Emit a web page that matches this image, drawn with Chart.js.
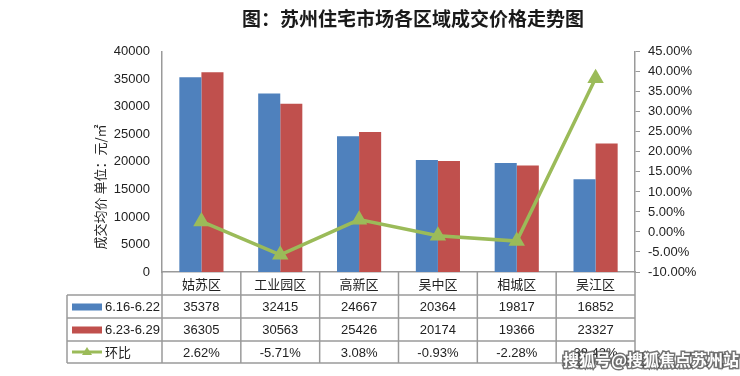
<!DOCTYPE html>
<html>
<head>
<meta charset="utf-8">
<script src="https://cdn.jsdelivr.net/npm/chart.js@4"></script>
<style>
  html, body { margin: 0; padding: 0; background: #fff; }
  canvas { display: block; }
</style>
</head>
<body>
<canvas id="chart" width="740" height="376"></canvas>
<script>
// data
const categories = ['姑苏区', '工业园区', '高新区', '吴中区', '相城区', '吴江区'];
const seriesNames = ['6.16-6.22', '6.23-6.29', '环比'];
const week1 = [35378, 32415, 24667, 20364, 19817, 16852];
const week2 = [36305, 30563, 25426, 20174, 19366, 23327];
const change = [2.62, -5.71, 3.08, -0.93, -2.28, 38.42]; // percent

const titleText = '图：苏州住宅市场各区域成交价格走势图';
const yTitle = '成交均价 单位：元/㎡';
const watermark = '搜狐号@搜狐焦点苏州站';

const blue = '#4F81BD';
const red = '#C0504D';
const green = '#9BBB59';
const lineGrey = '#9a9a9a';
const cjk = "'Noto Sans CJK SC', sans-serif";
const num = "'Liberation Sans', Arial, sans-serif";

// draws the data table under the plot, the rotated y title and the watermark
const tablePlugin = {
    id: 'data_table',
    afterDraw: (chart) => {
        const ctx = chart.ctx;
        const ca = chart.chartArea;
        const xs = chart.scales.x;
        const n = categories.length;
        const colW = (ca.right - ca.left) / n;
        const legendLeft = 67;
        const headTop = ca.bottom;
        const rows = [ca.bottom + 23, ca.bottom + 46, ca.bottom + 69, ca.bottom + 91];

        ctx.save();
        ctx.strokeStyle = lineGrey;
        ctx.lineWidth = 1.5;

        // vertical lines
        for (let i = 0; i <= n; i++) {
            const x = ca.left + i * colW;
            ctx.beginPath();
            ctx.moveTo(x, headTop);
            ctx.lineTo(x, rows[3]);
            ctx.stroke();
        }
        ctx.beginPath();
        ctx.moveTo(legendLeft, rows[0]);
        ctx.lineTo(legendLeft, rows[3]);
        ctx.stroke();

        // horizontal lines
        for (const y of rows) {
            ctx.beginPath();
            ctx.moveTo(legendLeft, y);
            ctx.lineTo(ca.right, y);
            ctx.stroke();
        }

        // category labels
        ctx.fillStyle = '#222';
        ctx.textAlign = 'center';
        ctx.textBaseline = 'middle';
        ctx.font = `13px ${cjk}`;
        categories.forEach((c, i) => {
            ctx.fillText(c, xs.getPixelForValue(i), headTop + 12);
        });

        // values
        ctx.font = `13px ${num}`;
        const rowVals = [
            week1.map(v => String(v)),
            week2.map(v => String(v)),
            change.map(v => v.toFixed(2) + '%'),
        ];
        rowVals.forEach((vals, r) => {
            const yMid = (rows[r] + rows[r + 1]) / 2 + 1;
            vals.forEach((t, i) => {
                ctx.fillText(t, xs.getPixelForValue(i), yMid);
            });
        });

        // legend column
        ctx.textAlign = 'left';
        const swX = 72, swW = 30;
        [blue, red].forEach((col, r) => {
            const yMid = (rows[r] + rows[r + 1]) / 2;
            ctx.fillStyle = col;
            ctx.fillRect(swX, yMid - 3, swW, 7);
            ctx.fillStyle = '#222';
            ctx.font = `13px ${num}`;
            ctx.fillText(seriesNames[r], swX + swW + 3, yMid + 1);
        });
        const y3 = (rows[2] + rows[3]) / 2;
        ctx.strokeStyle = green;
        ctx.lineWidth = 3;
        ctx.beginPath();
        ctx.moveTo(swX, y3);
        ctx.lineTo(swX + swW, y3);
        ctx.stroke();
        ctx.fillStyle = green;
        ctx.beginPath();
        ctx.moveTo(swX + swW / 2, y3 - 5);
        ctx.lineTo(swX + swW / 2 + 5, y3 + 3);
        ctx.lineTo(swX + swW / 2 - 5, y3 + 3);
        ctx.closePath();
        ctx.fill();
        ctx.fillStyle = '#222';
        ctx.font = `13px ${cjk}`;
        ctx.fillText(seriesNames[2], swX + swW + 3, y3);

        // rotated y axis title
        ctx.save();
        ctx.translate(100, 187);
        ctx.rotate(-Math.PI / 2);
        ctx.textAlign = 'center';
        ctx.font = `13px ${cjk}`;
        ctx.fillStyle = '#222';
        ctx.fillText(yTitle, 0, 0);
        ctx.restore();

        // watermark
        ctx.font = `bold 16px ${cjk}`;
        ctx.textAlign = 'left';
        ctx.textBaseline = 'alphabetic';
        ctx.lineWidth = 3;
        ctx.strokeStyle = 'rgba(70, 70, 70, 0.75)';
        ctx.strokeText(watermark, 563, 366);
        ctx.fillStyle = '#fff';
        ctx.fillText(watermark, 563, 366);

        ctx.restore();
    }
};

const chart = new Chart(document.getElementById('chart'), {
    type: 'bar',
    data: {
        labels: categories,
        datasets: [
            {
                type: 'line', label: seriesNames[2], data: change, yAxisID: 'y1', order: 0,
                borderColor: green, backgroundColor: green, borderWidth: 3.5,
                pointStyle: 'triangle', pointRadius: 6, pointBackgroundColor: green,
                pointBorderColor: green, tension: 0,
            },
            {
                label: seriesNames[0], data: week1, yAxisID: 'y', order: 1,
                backgroundColor: blue, categoryPercentage: 0.56, barPercentage: 1.0,
            },
            {
                label: seriesNames[1], data: week2, yAxisID: 'y', order: 1,
                backgroundColor: red, categoryPercentage: 0.56, barPercentage: 1.0,
            },
        ]
    },
    options: {
        responsive: false,
        animation: false,
        devicePixelRatio: 1,
        layout: {padding: {top: 0, left: 86, right: 0, bottom: 104}},
        plugins: {
            legend: {display: false},
            tooltip: {enabled: false},
            title: {
                display: true,
                text: titleText,
                color: '#1a1a1a',
                font: {family: cjk, size: 19, weight: 'bold'},
                padding: {top: 7, bottom: 22},
            },
        },
        scales: {
            x: {
                grid: {display: false},
                ticks: {display: false},
                border: {color: lineGrey, width: 1.5},
                afterFit: (s) => { s.height = 0; },
            },
            y: {
                position: 'left',
                min: 0, max: 40000,
                ticks: {
                    stepSize: 5000, color: '#222', font: {family: num, size: 13}, padding: 12,
                    callback: (v) => String(v),
                },
                grid: {display: false, drawTicks: false},
                border: {color: lineGrey, width: 1.5},
                afterFit: (s) => { s.width = 76; },
            },
            y1: {
                position: 'right',
                min: -10, max: 45,
                ticks: {
                    stepSize: 5, color: '#222', font: {family: num, size: 13}, padding: 8,
                    callback: (v) => v.toFixed(2) + '%',
                },
                grid: {drawOnChartArea: false, drawTicks: true, tickLength: 5, color: lineGrey},
                border: {color: lineGrey, width: 1.5},
                afterFit: (s) => { s.width = 105; },
            },
        },
    },
    plugins: [tablePlugin],
});
</script>
</body>
</html>
